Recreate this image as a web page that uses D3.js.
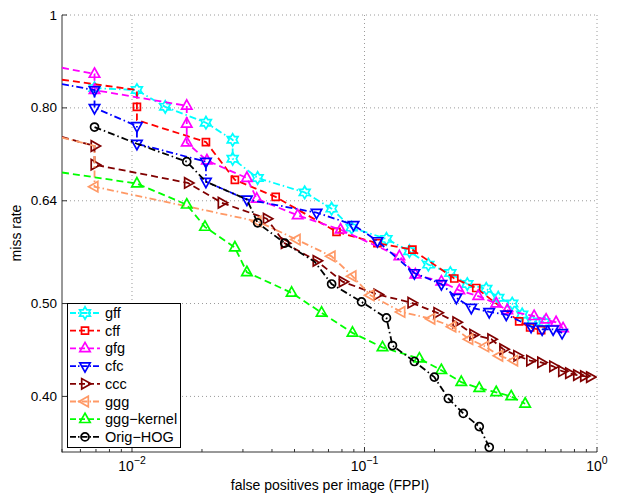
<!DOCTYPE html>
<html><head><meta charset="utf-8">
<script src="https://cdn.jsdelivr.net/npm/d3@7"></script>
<style>body{margin:0;background:#fff}svg{display:block}</style>
</head><body><svg id="c" width="628" height="496"></svg>
<script>
// ---- data (FPPI vs miss rate) ----
const seriesNames = ["gff","cff","gfg","cfc","ccc","ggg","ggg\u2212kernel","Orig\u2212HOG"];

const gffFppi = [0.0069,0.0105,0.0139,0.0208,0.0271,0.0271,0.0347,0.0553,0.0722,0.088,0.1243,0.156,0.1882,0.234,0.2768,0.3339,0.376,0.4318,0.4765,0.526,0.5923];
const gffMiss = [0.839,0.835,0.802,0.772,0.741,0.708,0.676,0.653,0.628,0.600,0.584,0.567,0.549,0.538,0.524,0.518,0.507,0.500,0.487,0.479,0.478];
const gffBare = [];

const cffFppi = [0.005,0.0105,0.0105,0.0105,0.0208,0.0277,0.0415,0.0758,0.1137,0.1607,0.2434,0.3025,0.4626,0.5157,0.5751];
const cffMiss = [0.856,0.835,0.802,0.777,0.737,0.673,0.646,0.594,0.578,0.569,0.531,0.519,0.479,0.472,0.469];
const cffBare = [0,1,3];

const gfgFppi = [0.005,0.0069,0.0069,0.0172,0.0172,0.0172,0.021,0.0312,0.0344,0.0516,0.0789,0.1413,0.1655,0.2141,0.2557,0.3085,0.3686,0.4111,0.5365,0.6041,0.6668,0.7146];
const gfgMiss = [0.881,0.868,0.835,0.804,0.770,0.736,0.705,0.676,0.643,0.618,0.597,0.560,0.536,0.527,0.516,0.509,0.500,0.492,0.485,0.481,0.478,0.471];
const gfgBare = [0];

const cfcFppi = [0.005,0.0069,0.0069,0.0105,0.0105,0.0208,0.0208,0.0312,0.0622,0.0897,0.1137,0.1639,0.2141,0.2483,0.2879,0.344,0.407,0.5208,0.5808,0.6476,0.7076];
const cfcMiss = [0.847,0.835,0.800,0.766,0.734,0.703,0.670,0.642,0.622,0.604,0.581,0.538,0.524,0.507,0.495,0.490,0.487,0.473,0.470,0.470,0.466];
const cfcBare = [0];

const cccFppi = [0.005,0.0069,0.0069,0.0174,0.0243,0.038,0.0454,0.0622,0.0805,0.1137,0.1591,0.2057,0.2483,0.2936,0.3509,0.3951,0.4536,0.5157,0.5751,0.6476,0.7076,0.7582,0.8208,0.8796,0.933];
const cccMiss = [0.746,0.730,0.698,0.668,0.637,0.613,0.578,0.554,0.527,0.511,0.501,0.489,0.478,0.464,0.459,0.448,0.441,0.436,0.434,0.430,0.425,0.423,0.421,0.420,0.419];
const cccBare = [0];

const gggFppi = [0.005,0.0069,0.0069,0.0347,0.0511,0.0722,0.0888,0.1061,0.1441,0.1939,0.2387,0.2823,0.3306,0.3797,0.4403];
const gggMiss = [0.745,0.730,0.662,0.609,0.583,0.560,0.534,0.510,0.490,0.482,0.473,0.459,0.451,0.441,0.436];
const gggBare = [0,1];

const kerFppi = [0.005,0.0105,0.0172,0.0206,0.0277,0.0312,0.0486,0.0654,0.0888,0.1195,0.1722,0.2141,0.2608,0.3116,0.3686,0.4276,0.4909];
const kerMiss = [0.685,0.667,0.634,0.601,0.572,0.539,0.513,0.489,0.466,0.450,0.438,0.426,0.414,0.408,0.404,0.400,0.393];
const kerBare = [0];

const hogFppi = [0.0069,0.0105,0.0172,0.0208,0.0312,0.0347,0.0454,0.061,0.0722,0.0971,0.1243,0.1319,0.1639,0.1997,0.2294,0.266,0.3116,0.344];
const hogMiss = [0.764,0.734,0.703,0.670,0.642,0.607,0.578,0.553,0.524,0.502,0.483,0.452,0.435,0.419,0.398,0.384,0.372,0.354];
const hogBare = [1,3,4,7];

const xTicks = [0.01,0.1,1];
const xTickExp = ["\u22122","\u22121","0"];
const yTicks = [0.40,0.50,0.64,0.80,1];
const yTickLabels = ["0.40","0.50","0.64","0.80","1"];

// ---- layout ----
const W=628,H=496, L=62,R=597,T=15,B=452;
const svg=d3.select("#c");
svg.append("rect").attr("width",W).attr("height",H).attr("fill","#fff");
const x=d3.scaleLog().domain([0.005,1]).range([L,R]);
const y=d3.scaleLog().domain([0.35,1]).range([B,T]);
const FONT="'Liberation Sans', Arial, Helvetica, sans-serif";

const dashA="7,4", dashDot="7,3,1.5,3";
const styles=[
 {c:"#00ffff",d:dashDot,m:"hex"},
 {c:"#ff0000",d:dashA,m:"sq"},
 {c:"#ff00ff",d:dashA,m:"up"},
 {c:"#0000ff",d:dashDot,m:"down"},
 {c:"#800000",d:dashA,m:"right"},
 {c:"#ff9966",d:dashDot,m:"left"},
 {c:"#00ff00",d:dashA,m:"up"},
 {c:"#000000",d:dashDot,m:"circ"}
];
const data=[[gffFppi,gffMiss,gffBare],[cffFppi,cffMiss,cffBare],[gfgFppi,gfgMiss,gfgBare],[cfcFppi,cfcMiss,cfcBare],
 [cccFppi,cccMiss,cccBare],[gggFppi,gggMiss,gggBare],[kerFppi,kerMiss,kerBare],[hogFppi,hogMiss,hogBare]];

// grid
const g=svg.append("g");
xTicks.forEach(t=>g.append("line").attr("x1",x(t)).attr("x2",x(t)).attr("y1",T).attr("y2",B)
  .attr("stroke","#9a9a9a").attr("stroke-width",1).attr("stroke-dasharray","1,3"));
yTicks.forEach(t=>g.append("line").attr("x1",L).attr("x2",R).attr("y1",y(t)).attr("y2",y(t))
  .attr("stroke","#9a9a9a").attr("stroke-width",1).attr("stroke-dasharray","1,3"));

// axes lines & ticks
const ax=svg.append("g").attr("stroke","#333").attr("stroke-width",1);
ax.append("line").attr("x1",L).attr("x2",L).attr("y1",T).attr("y2",B+0.5);
ax.append("line").attr("x1",L).attr("x2",R).attr("y1",B).attr("y2",B);
const minor=[];
[0.001,0.01,0.1].forEach(dec=>{for(let k=2;k<=9;k++){const v=dec*k;if(v>=0.005&&v<1)minor.push(v);}});
minor.forEach(v=>ax.append("line").attr("x1",x(v)).attr("x2",x(v)).attr("y1",B).attr("y2",B-3));
xTicks.forEach(v=>ax.append("line").attr("x1",x(v)).attr("x2",x(v)).attr("y1",B).attr("y2",B-5));
yTicks.forEach(v=>ax.append("line").attr("x1",L).attr("x2",L+5).attr("y1",y(v)).attr("y2",y(v)));

// tick labels
yTicks.forEach((v,i)=>svg.append("text").attr("x",L-5).attr("y",y(v)+4.5).attr("text-anchor","end")
  .attr("font-family",FONT).attr("font-size",13.5).text(yTickLabels[i]));
xTicks.forEach((v,i)=>{
  const t=svg.append("text").attr("x",x(v)).attr("y",471).attr("text-anchor","middle").attr("font-family",FONT).attr("font-size",14);
  t.append("tspan").text("10");
  t.append("tspan").attr("dy",-7).attr("font-size",10.5).text(xTickExp[i]);
});
svg.append("text").attr("x",330).attr("y",490).attr("text-anchor","middle").attr("font-family",FONT).attr("font-size",14)
  .text("false positives per image (FPPI)");
svg.append("text").attr("transform","translate(21,233) rotate(-90)").attr("text-anchor","middle").attr("font-family",FONT).attr("font-size",14)
  .text("miss rate");

// markers
function markerPath(m){
  if(m==="hex"){const pts=[];for(let i=0;i<12;i++){const r=i%2?3.6:6.2;const a=-Math.PI/2+i*Math.PI/6;pts.push([r*Math.cos(a),r*Math.sin(a)]);}return "M"+pts.map(p=>p.join(",")).join("L")+"Z";}
  if(m==="sq") return "M-3.5,-3.5L3.5,-3.5L3.5,3.5L-3.5,3.5Z";
  if(m==="up") return "M0,-6L5.2,3.3L-5.2,3.3Z";
  if(m==="down") return "M0,6L5.2,-3.3L-5.2,-3.3Z";
  if(m==="right") return "M6,0L-3.3,-5.2L-3.3,5.2Z";
  if(m==="left") return "M-6,0L3.3,-5.2L3.3,5.2Z";
  if(m==="circ") return "M4,0A4,4 0 1,1 -4,0A4,4 0 1,1 4,0Z";
}

svg.append("clipPath").attr("id","clip").append("rect").attr("x",L).attr("y",T).attr("width",R-L).attr("height",B-T);
const plot=svg.append("g").attr("clip-path","url(#clip)");
const lineGen=d3.line().x(d=>x(d[0])).y(d=>y(d[1]));
data.forEach((s,i)=>{
  const pts=s[0].map((f,j)=>[f,s[1][j],j]);
  const st=styles[i];
  const gg=plot.append("g");
  gg.append("path").attr("d",lineGen(pts)).attr("fill","none").attr("stroke",st.c).attr("stroke-width",1.8)
    .attr("stroke-dasharray",st.d);
  gg.selectAll("path.mk").data(pts.filter(p=>!s[2].includes(p[2]))).enter().append("path").attr("class","mk")
    .attr("d",markerPath(st.m)).attr("transform",p=>`translate(${x(p[0])},${y(p[1])})`)
    .attr("fill","none").attr("stroke",st.c).attr("stroke-width",1.7);
});

// legend
const lg=svg.append("g");
lg.append("rect").attr("x",67.5).attr("y",303.5).attr("width",113).attr("height",144).attr("fill","#fff").attr("stroke","#000").attr("stroke-width",1);
seriesNames.forEach((n,i)=>{
  const yy=313+i*17.7, st=styles[i];
  lg.append("line").attr("x1",70).attr("x2",100).attr("y1",yy).attr("y2",yy).attr("stroke",st.c).attr("stroke-width",1.8).attr("stroke-dasharray",st.d==dashA?"6,3":"6,2,1.5,2");
  lg.append("path").attr("d",markerPath(st.m)).attr("transform",`translate(85,${yy})`).attr("fill","none").attr("stroke",st.c).attr("stroke-width",1.7);
  lg.append("text").attr("x",105).attr("y",yy+5).attr("font-family",FONT).attr("font-size",14.5).text(n);
});
</script></body></html>
